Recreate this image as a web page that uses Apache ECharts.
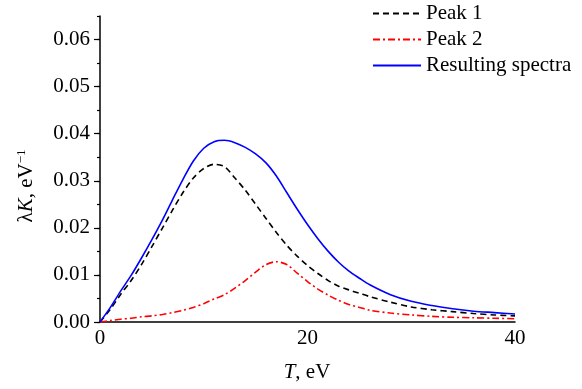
<!DOCTYPE html>
<html>
<head>
<meta charset="utf-8">
<script src="https://cdn.jsdelivr.net/npm/echarts@6/dist/echarts.min.js"></script>
<style>
  html, body { margin: 0; padding: 0; background: #fff; }
  #chart { width: 582px; height: 389px; }
</style>
</head>
<body>
<div id="chart"></div>
<script>
// T, eV
const energy = [0, 1, 2, 3, 4, 5, 6, 7, 8, 9, 10, 11, 12, 13, 14, 15, 16, 17, 18, 19, 20,
  21, 22, 23, 24, 25, 26, 28, 30, 32, 34, 36, 38, 40]
const peak1 = [0, 0.0027, 0.0059, 0.0088, 0.0122, 0.0160, 0.0199, 0.0238, 0.0275, 0.0306, 0.0326,
  0.0335, 0.0330, 0.0306, 0.0280, 0.0250, 0.0220, 0.0190, 0.0163, 0.0140, 0.0120,
  0.0103, 0.0088, 0.0076, 0.0068, 0.0061, 0.0054, 0.0042, 0.0032, 0.0026, 0.0022, 0.0018, 0.0015, 0.0013]
const peak2 = [0, 0.0003, 0.0006, 0.0008, 0.0011, 0.0013, 0.0016, 0.0020, 0.0025, 0.0031, 0.0039,
  0.0049, 0.0058, 0.0072, 0.0088, 0.0106, 0.0122, 0.0128, 0.0122, 0.0104, 0.0086,
  0.0070, 0.0057, 0.0046, 0.0037, 0.0031, 0.0025, 0.0019, 0.0015, 0.0012, 0.0010, 0.0009, 0.0008, 0.0007]
const resulting = [0, 0.0031, 0.0066, 0.0099, 0.0136, 0.0175, 0.0216, 0.0260, 0.0303, 0.0342, 0.0369,
  0.0383, 0.0386, 0.0381, 0.0371, 0.0357, 0.0338, 0.0310, 0.0275, 0.0240, 0.0207,
  0.0177, 0.0150, 0.0127, 0.0108, 0.0093, 0.0079, 0.0058, 0.0044, 0.0035, 0.0028, 0.0023, 0.0020, 0.0017]

const font = 'Liberation Serif'
const fs = 21

function pairs(vals) {
  return energy.map((t, i) => [t, vals[i]])
}

const chart = echarts.init(document.getElementById('chart'), null, { renderer: 'canvas' })

const option = {
  animation: false,
  backgroundColor: '#fff',
  textStyle: { fontFamily: font, color: '#000' },
  grid: { left: 100, right: 67, top: 16, bottom: 67, containLabel: false, outerBoundsMode: 'none' },
  legend: {
    orient: 'vertical',
    left: 372,
    top: 3,
    padding: 0,
    itemWidth: 48,
    itemHeight: 10,
    itemGap: 5,
    itemStyle: { opacity: 0 },
    textStyle: { fontFamily: font, fontSize: fs, color: '#000' },
    data: ['Peak 1', 'Peak 2', 'Resulting spectra'],
  },
  xAxis: {
    type: 'value',
    min: 0,
    max: 40,
    interval: 20,
    axisLine: { lineStyle: { color: '#000', width: 1.5 } },
    axisTick: { show: false },
    splitLine: { show: false },
    axisLabel: { fontFamily: font, fontSize: fs, color: '#000', margin: 6 },
  },
  yAxis: [
    {
      type: 'value',
      min: 0,
      max: 0.065,
      interval: 0.01,
      axisLine: { show: true, lineStyle: { color: '#000', width: 1.5 } },
      axisTick: { show: true, length: 6, lineStyle: { color: '#000', width: 1.2 } },
      splitLine: { show: false },
      axisLabel: {
        fontFamily: font, fontSize: fs, color: '#000', margin: 10,
        showMaxLabel: false,
        formatter: (v) => (Math.abs(v * 100 - Math.round(v * 100)) < 1e-6 ? v.toFixed(2) : ''),
      },
    },
    {
      // minor ticks
      type: 'value',
      position: 'left',
      min: 0,
      max: 0.065,
      interval: 0.005,
      axisLine: { show: false },
      axisTick: { show: true, length: 3, lineStyle: { color: '#000', width: 1.2 } },
      axisLabel: { show: false },
      splitLine: { show: false },
    },
  ],
  graphic: [
    {
      type: 'text',
      x: 26,
      y: 186,
      rotation: Math.PI / 2,
      style: {
        text: '{a|λ}{i|K}{a|, eV}{s|−1}',
        align: 'center',
        verticalAlign: 'middle',
        rich: {
          a: { fontFamily: font, fontSize: fs, color: '#000' },
          i: { fontFamily: font, fontSize: fs, fontStyle: 'italic', color: '#000' },
          s: { fontFamily: font, fontSize: 13, color: '#000', verticalAlign: 'top' },
        },
      },
    },
    {
      type: 'text',
      x: 307,
      y: 372,
      style: {
        text: '{i|T}{a|, eV}',
        align: 'center',
        verticalAlign: 'middle',
        rich: {
          a: { fontFamily: font, fontSize: fs, color: '#000' },
          i: { fontFamily: font, fontSize: fs, fontStyle: 'italic', color: '#000' },
        },
      },
    },
  ],
  series: [
    {
      name: 'Peak 1',
      type: 'line',
      data: pairs(peak1),
      smooth: 0.3,
      symbol: 'none',
      lineStyle: { color: '#000', width: 1.6, type: [6, 4] },
      itemStyle: { color: '#000' },
    },
    {
      name: 'Peak 2',
      type: 'line',
      data: pairs(peak2),
      smooth: 0.3,
      symbol: 'none',
      lineStyle: { color: '#ff0000', width: 1.6, type: [7, 3, 2, 3] },
      itemStyle: { color: '#ff0000' },
    },
    {
      name: 'Resulting spectra',
      type: 'line',
      data: pairs(resulting),
      smooth: 0.3,
      symbol: 'none',
      lineStyle: { color: '#0000ff', width: 1.6, type: 'solid' },
      itemStyle: { color: '#0000ff' },
    },
  ],
}

chart.setOption(option)
</script>
</body>
</html>
